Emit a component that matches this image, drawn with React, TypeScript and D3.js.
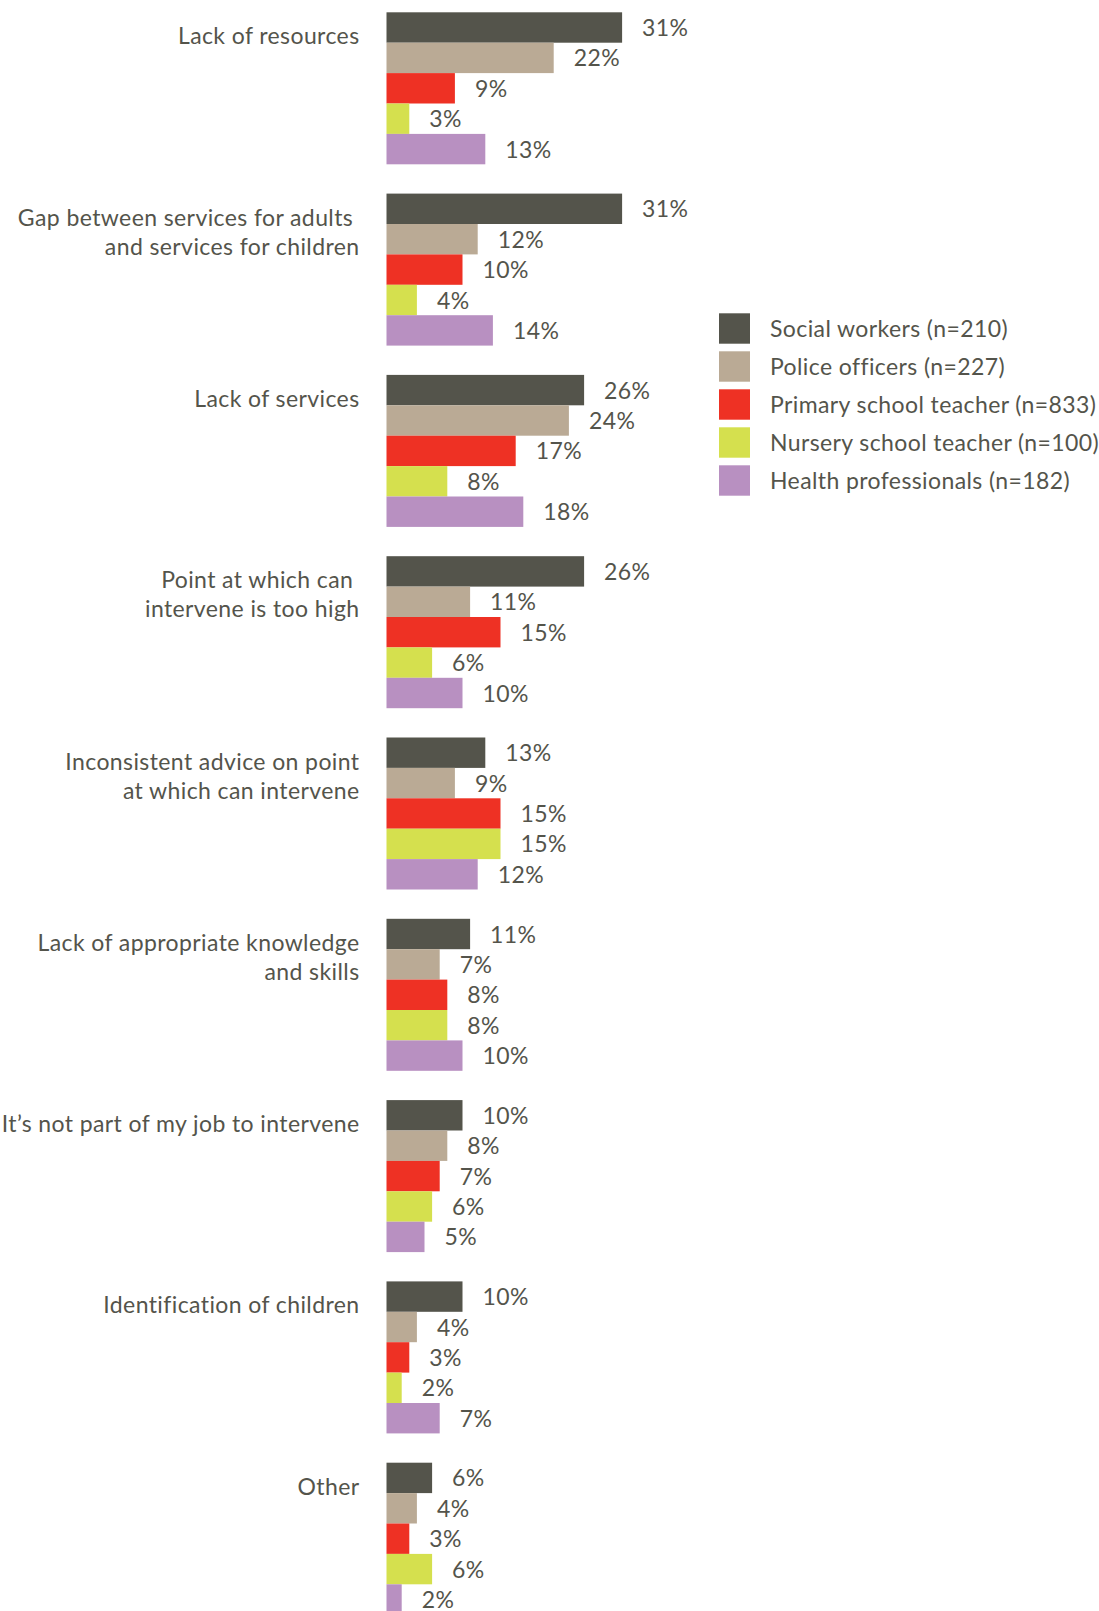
import React, { useEffect } from 'react';
import * as d3 from 'd3';

// survey answers, % of respondents per profession
const categories = [
  ['Lack of resources'],
  ['Gap between services for adults ', 'and services for children'],
  ['Lack of services'],
  ['Point at which can ', 'intervene is too high'],
  ['Inconsistent advice on point', 'at which can intervene'],
  ['Lack of appropriate knowledge', 'and skills'],
  ['It\u2019s not part of my job to intervene'],
  ['Identification of children'],
  ['Other'],
];

const seriesNames = [
  'Social workers (n=210)',
  'Police officers (n=227)',
  'Primary school teacher (n=833)',
  'Nursery school teacher (n=100)',
  'Health professionals (n=182)',
];

const socialWorkers = [31, 31, 26, 26, 13, 11, 10, 10, 6];
const policeOfficers = [22, 12, 24, 11, 9, 7, 8, 4, 4];
const primaryTeachers = [9, 10, 17, 15, 15, 8, 7, 3, 3];
const nurseryTeachers = [3, 4, 8, 6, 15, 8, 6, 2, 6];
const healthProfessionals = [13, 14, 18, 10, 12, 10, 5, 7, 2];

const series = [socialWorkers, policeOfficers, primaryTeachers, nurseryTeachers, healthProfessionals];
const colors = ['#54544b', '#baaa95', '#ee3124', '#d5e04e', '#b890c1'];

const W = 1099;
const H = 1611;
const textColor = '#54544b';
const font = 'Lato, "Open Sans", sans-serif';
const fs = 23;

export default function App() {
  useEffect(() => {
    document.body.style.margin = '0';
  }, []);

  const keys = categories.map((_, i) => String(i));
  const y = d3.scaleBand<string>()
    .domain(keys)
    .range([12.3, 12.3 + 9 * 181.3])
    .paddingInner(0.1616)
    .paddingOuter(0.0808)
    .align(0);

  const inner = d3.scaleBand<number>()
    .domain(d3.range(series.length))
    .range([0, y.bandwidth()]);

  const x = d3.scaleLinear().domain([0, 10]).range([386.5, 462.5]);

  const legendY = d3.scaleBand<number>()
    .domain(d3.range(seriesNames.length))
    .range([313.3, 313.3 + 5 * 38])
    .paddingInner(0.2)
    .paddingOuter(0.1)
    .align(0);

  return (
    <svg width={W} height={H} style={{ display: 'block', fontFamily: font }}>
      <rect width={W} height={H} fill="#fff" />
      {categories.map((lines, i) => {
        const g0 = y(String(i)) as number;
        return (
          <g key={i}>
            <text
              x={359.5}
              textAnchor="end"
              fontSize={fs}
              fill={textColor}
              style={{ whiteSpace: 'pre', letterSpacing: '0.4px' }}
            >
              {lines.map((l, j) => (
                <tspan key={j} x={359.5} y={g0 + 32 + j * 29}>{l}</tspan>
              ))}
            </text>
            {series.map((vals, s) => {
              const by = g0 + (inner(s) as number);
              const v = vals[i];
              return (
                <g key={s}>
                  <rect x={x(0)} y={by} width={x(v) - x(0)} height={inner.bandwidth()} fill={colors[s]} />
                  <text
                    x={x(v) + 20}
                    y={by + inner.bandwidth() / 2 + 8.5}
                    fontSize={fs}
                    fill={textColor}
                    style={{ letterSpacing: '0.4px' }}
                  >
                    {v}%
                  </text>
                </g>
              );
            })}
          </g>
        );
      })}
      <g>
        {seriesNames.map((name, s) => {
          const ly = legendY(s) as number;
          return (
            <g key={name}>
              <rect x={719} y={ly} width={31} height={30.4} fill={colors[s]} />
              <text x={770} y={ly + 15.2 + 8.5} fontSize={fs} fill={textColor} style={{ letterSpacing: '0.4px' }}>
                {name}
              </text>
            </g>
          );
        })}
      </g>
    </svg>
  );
}
